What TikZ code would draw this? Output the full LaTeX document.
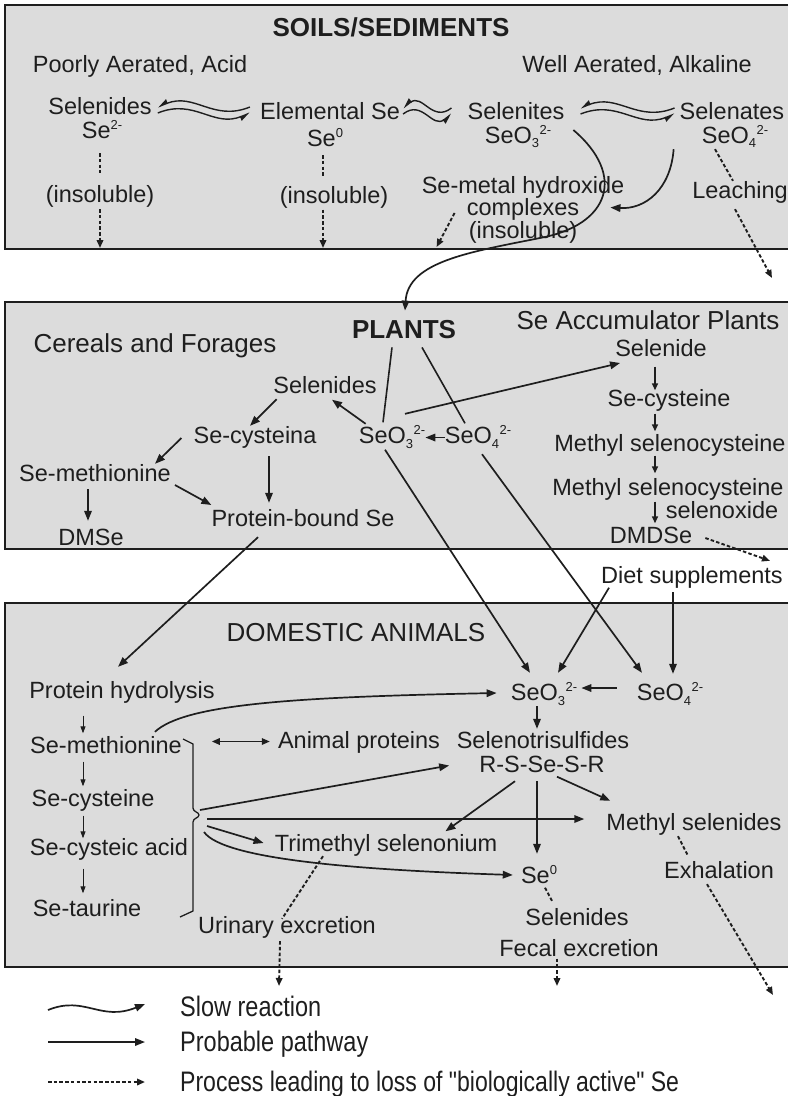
\documentclass[tikz,border=0pt]{standalone}
\usepackage{fontspec}
\setmainfont{Liberation Sans}
\usepackage{graphicx}
\usepackage{tikz}
\usetikzlibrary{arrows.meta, calc, positioning}
\definecolor{panelfill}{HTML}{DCDCDC}
\definecolor{inkdark}{HTML}{1E1E1E}
\newcommand\sesup[1]{\raisebox{0.37em}{\fontsize{13}{13}\selectfont #1}}
\newcommand\sesub[1]{\raisebox{-0.2em}{\fontsize{13}{13}\selectfont #1}}
\newcommand\seox[1]{SeO\sesub{#1}\kern0.5pt\sesup{2-}}
\tikzset{
  selabel/.style={
    font=\fontsize{23.5}{25}\selectfont, text=inkdark,
    inner sep=0pt, text height=16pt, text depth=4pt
  },
  seblock/.style={
    font=\fontsize{23.5}{22.5}\selectfont, text=inkdark,
    inner sep=0pt, align=center
  },
  sehead/.style={
    font=\fontsize{26}{28}\selectfont, text=inkdark,
    inner sep=0pt, text height=18pt, text depth=5pt
  },
  setitle/.style={
    font=\fontsize{26}{28}\selectfont\bfseries, text=inkdark, inner sep=0pt
  },
  selegend/.style={
    font=\fontsize{23.5}{25}\selectfont, text=inkdark, anchor=west,
    inner sep=0pt, text height=20pt, text depth=5pt
  },
  sepanel/.style={fill=panelfill},
  seborder/.style={draw=inkdark, line width=1.8pt},
  sepath/.style={-{Triangle[length=10pt,width=7.5pt]}, line width=1.7pt, draw=inkdark},
  seshort/.style={-{Triangle[length=7pt,width=6pt]}, line width=1.4pt, draw=inkdark},
  sethin/.style={-{Triangle[length=7pt,width=5pt]}, line width=0.9pt, draw=inkdark},
  seline/.style={line width=1.6pt, draw=inkdark},
  seloss/.style={-{Triangle[length=8pt,width=6.5pt]}, line width=1.9pt, draw=inkdark,
    dash pattern=on 3.5pt off 2.2pt},
  sedots/.style={line width=1.9pt, draw=inkdark, dash pattern=on 3.5pt off 2.2pt},
  seslowl/.style={{Triangle[harpoon,swap,length=9pt,width=8pt]}-, line width=1.4pt, draw=inkdark},
  seslowr/.style={-{Triangle[harpoon,swap,length=9pt,width=8pt]}, line width=1.4pt, draw=inkdark},
}

\begin{document}
\begin{tikzpicture}[x=1pt, y=-1pt]
  \useasboundingbox (0,0) rectangle (788,1096);

  % panels
  \fill[sepanel] (5,5) rectangle (788,249);
  \fill[sepanel] (5,302) rectangle (788,549);
  \fill[sepanel] (5,603) rectangle (788,967);
  \draw[seborder] (788,5) -- (5,5) -- (5,249) -- (788,249);
  \draw[seborder] (788,302) -- (5,302) -- (5,549) -- (788,549);
  \draw[seborder] (788,603) -- (5,603) -- (5,967) -- (788,967);
  \coordinate (soilbot) at (0,248);

  % Soils / sediments
  \node[setitle] (soil) at (391,27) {SOILS/SEDIMENTS};
  \node[selabel] (poor) at (140,66) {Poorly Aerated, Acid};
  \node[selabel] (well) at (637,66) {Well Aerated, Alkaline};
  \node[selabel] (selS) at (100,108) {Selenides};
  \node[selabel] (se2) at (102,132) {Se\sesup{2-}};
  \node[selabel] (ins1) at (100,196) {(insoluble)};
  \node[selabel] (elem) at (330,113) {Elemental Se};
  \node[selabel] (se0) at (325,140) {Se\sesup{0}};
  \node[selabel] (ins2) at (334,197.5) {(insoluble)};
  \node[selabel] (selts) at (516,113) {Selenites};
  \node[selabel] (sto3) at (518,137) {\seox{3}};
  \node[seblock] (cmplx) at (523,209.5) {Se-metal hydroxide\\complexes\\(insoluble)};
  \node[selabel] (selts4) at (732,113) {Selenates};
  \node[selabel] (sto4) at (735,137) {\seox{4}};
  \node[selabel] (leach) at (740,192.5) {Leaching};

  \draw[sedots, shorten <=11pt, shorten >=13pt] (se2.south -| ins1) -- (ins1.north);
  \draw[seloss, shorten <=3pt] (ins1.south) -- (ins1.south |- soilbot);
  \draw[sedots, shorten <=5pt, shorten >=11pt] ($(se0.south)+(-2,0)$) -- ($(se0.south |- ins2.north)+(-2,0)$);
  \draw[seloss, shorten <=2pt] ($(se0.south |- ins2.south)+(-2,0)$) -- ($(se0.south |- soilbot)+(-2,0)$);

  % slow reactions
  \coordinate (w1a) at ($(selS.east)+(6,2)$);
  \coordinate (w1b) at ($(elem.west)+(-10,-3)$);
  \coordinate (w2a) at ($(elem.east)+(3,-2)$);
  \coordinate (w2b) at ($(selts.west)+(-16,-2)$);
  \coordinate (w3a) at ($(selts.east)+(16,-2)$);
  \coordinate (w3b) at ($(selts4.west)+(-5,-2)$);
  \foreach \wa/\wb in {w1a/w1b, w2a/w2b, w3a/w3b} {
    \draw[seslowl] ($(\wa)+(0,-3)$) .. controls ($(\wa)!0.4!(\wb)+(0,-18)$)
      and ($(\wa)!0.6!(\wb)+(0,12)$) .. ($(\wb)+(0,-3)$);
    \draw[seslowr] ($(\wa)+(0,3)$) .. controls ($(\wa)!0.4!(\wb)+(0,-12)$)
      and ($(\wa)!0.6!(\wb)+(0,18)$) .. ($(\wb)+(0,3)$);
  }

  \draw[sepath] ($(sto4.south west)+(-28,2)$) .. controls +(-3,40) and +(35,2) .. ($(cmplx.east)+(-14,-2)$);
  \draw[sedots] ($(sto4.south)+(-20,2)$) -- ($(leach.north)+(-7,-1.5)$);
  \coordinate (leachout) at (772,278);
  \draw[seloss] ($(leach.south)+(-5,6.5)$) -- (leachout);
  \draw[seloss] ($(cmplx.west)+(33,3.5)$) -- ($(cmplx.west |- soilbot)+(15,-1)$);

  % Plants
  \node[setitle] (plantsT) at (404,330) {PLANTS};
  \node[sehead] (cereal) at (155,345.5) {Cereals and Forages};
  \node[sehead] (accum) at (648,322.5) {Se Accumulator Plants};
  \node[selabel] (selP) at (325,387.5) {Selenides};
  \node[selabel] (secyA) at (255,437.5) {Se-cysteina};
  \node[selabel] (semetP) at (95,475.5) {Se-methionine};
  \node[selabel] (dmse) at (91,539.5) {DMSe};
  \node[selabel] (pbound) at (303,520.5) {Protein-bound Se};
  \node[selabel] (so3P) at (392,437.5) {\seox{3}};
  \node[selabel] (so4P) at (478,437.5) {\seox{4}};
  \node[selabel] (selide) at (661,350.5) {Selenide};
  \node[selabel] (secyB) at (669,400.5) {Se-cysteine};
  \node[selabel] (msc1) at (670,445.5) {Methyl selenocysteine};
  \node[selabel] (msc2) at (668,489.5) {Methyl selenocysteine};
  \node[selabel] (selox) at (722,512.5) {selenoxide};
  \node[selabel] (dmdse) at (651,537.5) {DMDSe};
  \node[selabel] (diet) at (692,577.5) {Diet supplements};

  % uptake from soil
  \coordinate (soilbend) at (540,238);
  \draw[sepath] ($(sto3.east)+(22,-7)$) .. controls +(53,45) and +(70,-13) .. (soilbend)
    .. controls +(-70,14) and +(3,-49) .. ($(plantsT.north)+(1,-10)$);

  \draw[seline] ($(plantsT.south)+(-12,8)$) -- ($(so3P.north)+(-9,-5)$);
  \draw[seline] ($(plantsT.south)+(18,8)$) -- ($(so4P.north)+(-13,-4)$);
  \draw[sepath] (so4P.west) -- (so3P.east);
  \draw[sepath] ($(so3P.north west)+(7,-3.5)$) -- ($(selP.south)+(7,2)$);
  \draw[sepath] ($(selP.south west)+(3.5,1.5)$) -- ($(secyA.north)+(-5,-1.5)$);
  \draw[sepath] ($(secyA.west)+(-12,0.5)$) -- ($(semetP.north)+(60,-1.5)$);
  \draw[sepath] ($(secyA.south)+(14,8.5)$) -- ($(pbound.north)+(-34,-7.5)$);
  \draw[sepath] ($(semetP.east)+(4,9.5)$) -- ($(pbound.west)+(0,-15.5)$);
  \draw[sepath] ($(semetP.south)+(-7,3.5)$) -- ($(dmse.north)+(-3,-8.5)$);
  \draw[sepath] ($(so3P.north)+(13,-13.5)$) -- ($(selide.west)+(5,12.5)$);

  % accumulator chain
  \coordinate (accx) at (655,0);
  \draw[seshort, shorten <=6pt] (accx |- selide.south) -- (accx |- secyB.north);
  \draw[seshort, shorten <=3pt, shorten >=4pt] (accx |- secyB.south) -- (accx |- msc1.north);
  \draw[seshort, shorten >=6pt] (accx |- msc1.south) -- (accx |- msc2.north);
  \draw[seshort, shorten <=2pt, shorten >=4pt] (accx |- msc2.south) -- (accx |- dmdse.north);
  \draw[seloss] ($(dmdse.east)+(13,0.5)$) -- ($(diet.north east)+(-13,-6.5)$);

  % Domestic animals
  \node[sehead] (anim) at (356,634.5) {DOMESTIC ANIMALS};
  \node[selabel] (phydro) at (122,692.5) {Protein hydrolysis};
  \node[selabel] (semetA) at (106,747.5) {Se-methionine};
  \node[selabel] (secyC) at (93,800.5) {Se-cysteine};
  \node[selabel] (scacid) at (109,849.5) {Se-cysteic acid};
  \node[selabel] (staur) at (87,910.5) {Se-taurine};
  \node[selabel] (aprot) at (359,742.5) {Animal proteins};
  \node[selabel] (so3A) at (544,694.5) {\seox{3}};
  \node[selabel] (so4A) at (670,694.5) {\seox{4}};
  \node[selabel] (selenot) at (543,742.5) {Selenotrisulfides};
  \node[selabel] (rsser) at (542,766.5) {R-S-Se-S-R};
  \node[selabel] (trimeth) at (386,845.5) {Trimethyl selenonium};
  \node[selabel] (methsel) at (694,824.5) {Methyl selenides};
  \node[selabel] (se0A) at (539,877.5) {Se\sesup{0}};
  \node[selabel] (selA) at (577,919.5) {Selenides};
  \node[selabel] (fecal) at (579,950.5) {Fecal excretion};
  \node[selabel] (exhal) at (719,872.5) {Exhalation};
  \node[selabel] (urin) at (287,927.5) {Urinary excretion};

  % Plants to animals
  \draw[sepath] ($(so3P.south)+(-7,2)$) -- ($(so3A.north)+(-14,-11.5)$);
  \draw[sepath] ($(so4P.south)+(4,6.5)$) -- ($(so4A.north)+(-28,-11.5)$);
  \draw[sepath] ($(pbound.south)+(-45,6.5)$) -- ($(phydro.north)+(-4,-15.5)$);

  % catabolic chain
  \coordinate (colx) at (83,0);
  \draw[sethin, shorten <=13pt, shorten >=4pt] (colx |- phydro.south) -- (colx |- semetA.north);
  \draw[sethin, shorten <=4pt, shorten >=4pt] (colx |- semetA.south) -- (colx |- secyC.north);
  \draw[sethin, shorten <=5pt, shorten >=1pt] (colx |- secyC.south) -- (colx |- scacid.north);
  \draw[sethin, shorten <=9pt, shorten >=7pt] (colx |- scacid.south) -- (colx |- staur.north);

  % brace
  \coordinate (brtip) at (199,815);
  \draw[seline, line width=1.3pt] (183,739) -- (193,744) -- (193,808)
    .. controls (193,812) and (199,812) .. (brtip)
    .. controls (199,818) and (193,818) .. (193,822) -- (193,911) -- (180,917);

  \draw[{Triangle[length=8pt,width=6.5pt]}-{Triangle[length=8pt,width=6.5pt]}, line width=1.6pt, draw=inkdark]
    ($(aprot.west)+(-66,-1)$) -- ($(aprot.west)+(-8,-1)$);
  \draw[sepath] ($(semetA.north east)+(-27,-5.5)$) .. controls +(30,-28) and +(-200,4) .. ($(so3A.west)+(-14,-1.5)$);
  \draw[sepath] ($(brtip)+(1,-5)$) -- ($(rsser.west)+(-30,-1)$);
  \draw[sepath] ($(brtip)+(8,4)$) -- ($(methsel.west)+(-22,-5.5)$);
  \draw[sepath] ($(brtip)+(8,11)$) -- ($(trimeth.west)+(-11,-2.5)$);
  \draw[sepath] ($(brtip)+(5,17)$) .. controls +(20,28) and +(-150,-5) .. ($(se0A.west)+(-8,-2.5)$);

  \draw[sepath] ($(so4A.west)+(-20,-6.5)$) -- ($(so3A.east)+(4,-6.5)$);
  \draw[sepath] ($(diet.south west)+(8,0)$) -- ($(so3A.north)+(14,-11.5)$);
  \draw[sepath] ($(diet.south)+(-19,4.5)$) -- ($(so4A.north)+(3,-10.5)$);
  \draw[sepath] ($(so3A.south)+(-7,1.5)$) -- ($(selenot.north)+(-6,-3.5)$);
  \draw[sepath] ($(rsser.south)+(-27,4.5)$) -- ($(trimeth.north east)+(-52,-4)$);
  \draw[sepath] ($(rsser.south)+(-5,4.5)$) -- ($(se0A.north)+(-2,-13.5)$);
  \draw[sepath] ($(rsser.south)+(15,0)$) -- ($(methsel.north west)+(4,-13.5)$);

  % losses from animals
  \coordinate (fecalout) at (557,986);
  \coordinate (exhalout) at (773,995);
  \coordinate (urinout) at (279,986);
  \draw[sedots] ($(se0A.south)+(6,0)$) -- ($(selA.north)+(-25,-8.5)$);
  \draw[seloss] ($(fecal.south)+(-22,-2)$) -- (fecalout);
  \draw[sedots] ($(methsel.south)+(-16,1.5)$) -- ($(exhal.north)+(-31,-6.5)$);
  \draw[seloss] ($(exhal.south)+(-12,1.5)$) -- (exhalout);
  \draw[sedots] ($(trimeth.south)+(-63,0.5)$) -- ($(urin.north)+(-5,1.5)$);
  \draw[seloss] ($(urin.south)+(-7,3.5)$) -- (urinout);

  % legend
  \node[selegend] (lgslow) at (180,1009) {\scalebox{1}[1.2]{Slow reaction}};
  \node[selegend] (lgprob) at (180,1044) {\scalebox{1}[1.2]{Probable pathway}};
  \node[selegend] (lgloss) at (180,1084) {\scalebox{0.98}[1.2]{Process leading to loss of \textquotedbl biologically active\textquotedbl{} Se}};
  \draw[sepath] ($(lgslow.west)+(-132,1)$) .. controls +(37,-15) and +(-45,18) .. ($(lgslow.west)+(-35,-5)$);
  \draw[sepath] ($(lgprob.west)+(-132,-2)$) -- ($(lgprob.west)+(-35,-2)$);
  \draw[seloss] ($(lgloss.west)+(-132,-2)$) -- ($(lgloss.west)+(-35,-2)$);
\end{tikzpicture}
\end{document}
